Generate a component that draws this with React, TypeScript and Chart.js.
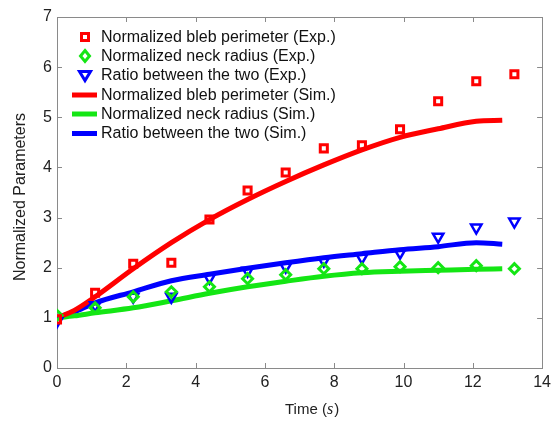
import React, { useEffect, useRef } from "react";
import { Chart, registerables } from "chart.js";

Chart.register(...registerables);

// Experimental data
const expTime = [0, 1.1, 2.2, 3.3, 4.4, 5.5, 6.6, 7.7, 8.8, 9.9, 11, 12.1, 13.2];
const expPerimeter = [0.97, 1.5, 2.08, 2.1, 2.96, 3.54, 3.9, 4.38, 4.44, 4.76, 5.32, 5.72, 5.86];
const expNeck = [1.05, 1.2, 1.42, 1.52, 1.62, 1.78, 1.86, 1.98, 1.98, 2.02, 2.0, 2.04, 1.98];
const expRatio = [0.93, 1.25, 1.42, 1.42, 1.8, 1.94, 2.02, 2.14, 2.2, 2.3, 2.62, 2.8, 2.92];

// Simulation data
const simTime = [0, 0.5, 1.1, 2.2, 3.3, 4.4, 5.5, 6.6, 7.7, 8.8, 9.9, 11, 12.1, 12.85];
const simPerimeter = [1.0, 1.15, 1.42, 1.98, 2.5, 2.96, 3.36, 3.72, 4.05, 4.35, 4.6, 4.77, 4.92, 4.94];
const simNeck = [1.0, 1.04, 1.1, 1.2, 1.34, 1.49, 1.62, 1.73, 1.83, 1.9, 1.93, 1.95, 1.97, 1.98];
const simRatio = [1.0, 1.12, 1.3, 1.52, 1.74, 1.87, 1.99, 2.1, 2.2, 2.28, 2.36, 2.42, 2.5, 2.47];

const legendLabels = [
  "Normalized bleb perimeter (Exp.)",
  "Normalized neck radius (Exp.)",
  "Ratio between the two (Exp.)",
  "Normalized bleb perimeter (Sim.)",
  "Normalized neck radius (Sim.)",
  "Ratio between the two (Sim.)",
];

const xTicks = [0, 2, 4, 6, 8, 10, 12, 14];
const yTicks = [0, 1, 2, 3, 4, 5, 6, 7];

const RED = "#ff0000";
const GREEN = "#14e614";
const BLUE = "#0000ff";
const AXIS = "#8a8a8a";
const FONT = "'Liberation Sans', Arial, sans-serif";

const pts = (xs: number[], ys: number[]) => xs.map((x, i) => ({ x, y: ys[i] }));

function drawMarker(ctx: CanvasRenderingContext2D, kind: string, x: number, y: number, color: string) {
  ctx.save();
  ctx.strokeStyle = color;
  ctx.lineWidth = 3;
  ctx.beginPath();
  if (kind === "rect") {
    ctx.rect(x - 3.5, y - 3.5, 7, 7);
  } else if (kind === "diamond") {
    ctx.moveTo(x, y - 5.5);
    ctx.lineTo(x + 4.5, y);
    ctx.lineTo(x, y + 5.5);
    ctx.lineTo(x - 4.5, y);
    ctx.closePath();
  } else {
    ctx.moveTo(x - 5.5, y - 4);
    ctx.lineTo(x + 5.5, y - 4);
    ctx.lineTo(x, y + 5);
    ctx.closePath();
  }
  ctx.stroke();
  ctx.restore();
}

const framePlugin = {
  id: "frame",
  beforeDatasetsDraw(chart: any) {
    const { ctx, chartArea } = chart;
    const { left, right, top, bottom } = chartArea;
    const xs = chart.scales.x;
    const ys = chart.scales.y;
    ctx.save();
    ctx.strokeStyle = AXIS;
    ctx.lineWidth = 1;
    ctx.strokeRect(Math.round(left) + 0.5, Math.round(top) + 0.5, Math.round(right - left), Math.round(bottom - top));
    ctx.beginPath();
    const tl = 5;
    xTicks.forEach((t) => {
      const px = Math.round(xs.getPixelForValue(t)) + 0.5;
      ctx.moveTo(px, bottom);
      ctx.lineTo(px, bottom - tl);
      ctx.moveTo(px, top);
      ctx.lineTo(px, top + tl);
    });
    yTicks.forEach((t) => {
      const py = Math.round(ys.getPixelForValue(t)) + 0.5;
      ctx.moveTo(left, py);
      ctx.lineTo(left + tl, py);
      ctx.moveTo(right, py);
      ctx.lineTo(right - tl, py);
    });
    ctx.stroke();
    ctx.restore();
  },
  afterDraw(chart: any) {
    const { ctx } = chart;
    ctx.save();
    // y title
    ctx.fillStyle = "#222";
    ctx.font = `16px ${FONT}`;
    ctx.textAlign = "center";
    ctx.textBaseline = "middle";
    ctx.translate(21, 197);
    ctx.rotate(-Math.PI / 2);
    ctx.fillText("Normalized Parameters", 0, 0);
    ctx.restore();

    // x title with italic s
    ctx.save();
    ctx.fillStyle = "#222";
    ctx.textBaseline = "middle";
    ctx.textAlign = "left";
    let x = 285;
    const y = 410;
    ctx.font = `15px ${FONT}`;
    ctx.fillText("Time (", x, y);
    x += ctx.measureText("Time (").width;
    ctx.font = `italic 16px 'Liberation Serif', 'Times New Roman', serif`;
    ctx.fillText("s", x, y);
    x += ctx.measureText("s").width + 1;
    ctx.font = `15px ${FONT}`;
    ctx.fillText(")", x, y);
    ctx.restore();

    // legend
    ctx.save();
    const rows = [37, 56, 75.5, 95, 114, 133.5];
    const kinds = ["rect", "diamond", "tri", "line", "line", "line"];
    const colors = [RED, GREEN, BLUE, RED, GREEN, BLUE];
    rows.forEach((ry, i) => {
      if (kinds[i] === "line") {
        ctx.strokeStyle = colors[i];
        ctx.lineWidth = 5;
        ctx.beginPath();
        ctx.moveTo(72, ry);
        ctx.lineTo(97, ry);
        ctx.stroke();
      } else {
        drawMarker(ctx, kinds[i], 85, ry, colors[i]);
      }
      ctx.fillStyle = "#111";
      ctx.font = `16px ${FONT}`;
      ctx.textAlign = "left";
      ctx.textBaseline = "middle";
      ctx.fillText(legendLabels[i], 101, ry + 0.5);
    });
    ctx.restore();
  },
};

export default function App() {
  const ref = useRef<HTMLCanvasElement | null>(null);
  useEffect(() => {
    if (!ref.current) return;
    const chart = new Chart(ref.current, {
      type: "line",
      data: {
        datasets: [
          {
            label: legendLabels[3],
            data: pts(simTime, simPerimeter),
            borderColor: RED,
            borderWidth: 5,
            pointRadius: 0,
            cubicInterpolationMode: "monotone",
            order: 2,
          },
          {
            label: legendLabels[4],
            data: pts(simTime, simNeck),
            borderColor: GREEN,
            borderWidth: 5,
            pointRadius: 0,
            cubicInterpolationMode: "monotone",
            order: 2,
          },
          {
            label: legendLabels[5],
            data: pts(simTime, simRatio),
            borderColor: BLUE,
            borderWidth: 5,
            pointRadius: 0,
            cubicInterpolationMode: "monotone",
            order: 2,
          },
          {
            label: legendLabels[0],
            data: pts(expTime, expPerimeter),
            showLine: false,
            pointStyle: "rect",
            pointRadius: 5,
            pointBorderWidth: 3,
            pointBorderColor: RED,
            pointBackgroundColor: "rgba(0,0,0,0)",
            order: 1,
          },
          {
            label: legendLabels[1],
            data: pts(expTime, expNeck),
            showLine: false,
            pointStyle: "rectRot",
            pointRadius: 5,
            pointBorderWidth: 3,
            pointBorderColor: GREEN,
            pointBackgroundColor: "rgba(0,0,0,0)",
            order: 1,
          },
          {
            label: legendLabels[2],
            data: pts(expTime, expRatio),
            showLine: false,
            pointStyle: "triangle",
            pointRotation: 180,
            pointRadius: 6,
            pointBorderWidth: 2.5,
            pointBorderColor: BLUE,
            pointBackgroundColor: "rgba(0,0,0,0)",
            order: 1,
          },
        ],
      } as any,
      options: {
        animation: false,
        responsive: false,
        layout: { padding: { top: 17, right: 8, left: 0, bottom: 0 } },
        plugins: { legend: { display: false }, tooltip: { enabled: false } },
        scales: {
          x: {
            type: "linear",
            min: 0,
            max: 14,
            afterBuildTicks: (s: any) => {
              s.ticks = xTicks.map((v) => ({ value: v }));
            },
            ticks: { font: { size: 16, family: FONT }, color: "#222", padding: 5, maxRotation: 0 },
            grid: { display: false, drawTicks: false },
            border: { display: false },
            afterFit: (s: any) => {
              s.height = 53;
            },
          },
          y: {
            type: "linear",
            min: 0,
            max: 7,
            afterBuildTicks: (s: any) => {
              s.ticks = yTicks.map((v) => ({ value: v }));
            },
            ticks: { font: { size: 16, family: FONT }, color: "#222", padding: 5 },
            grid: { display: false, drawTicks: false },
            border: { display: false },
            afterFit: (s: any) => {
              s.width = 57;
            },
          },
        },
      } as any,
      plugins: [framePlugin],
    });
    return () => chart.destroy();
  }, []);
  return (
    <div style={{ position: "absolute", left: 0, top: 0, width: 556, height: 421, background: "#fff" }}>
      <canvas ref={ref} width={556} height={421} style={{ display: "block" }} />
    </div>
  );
}
